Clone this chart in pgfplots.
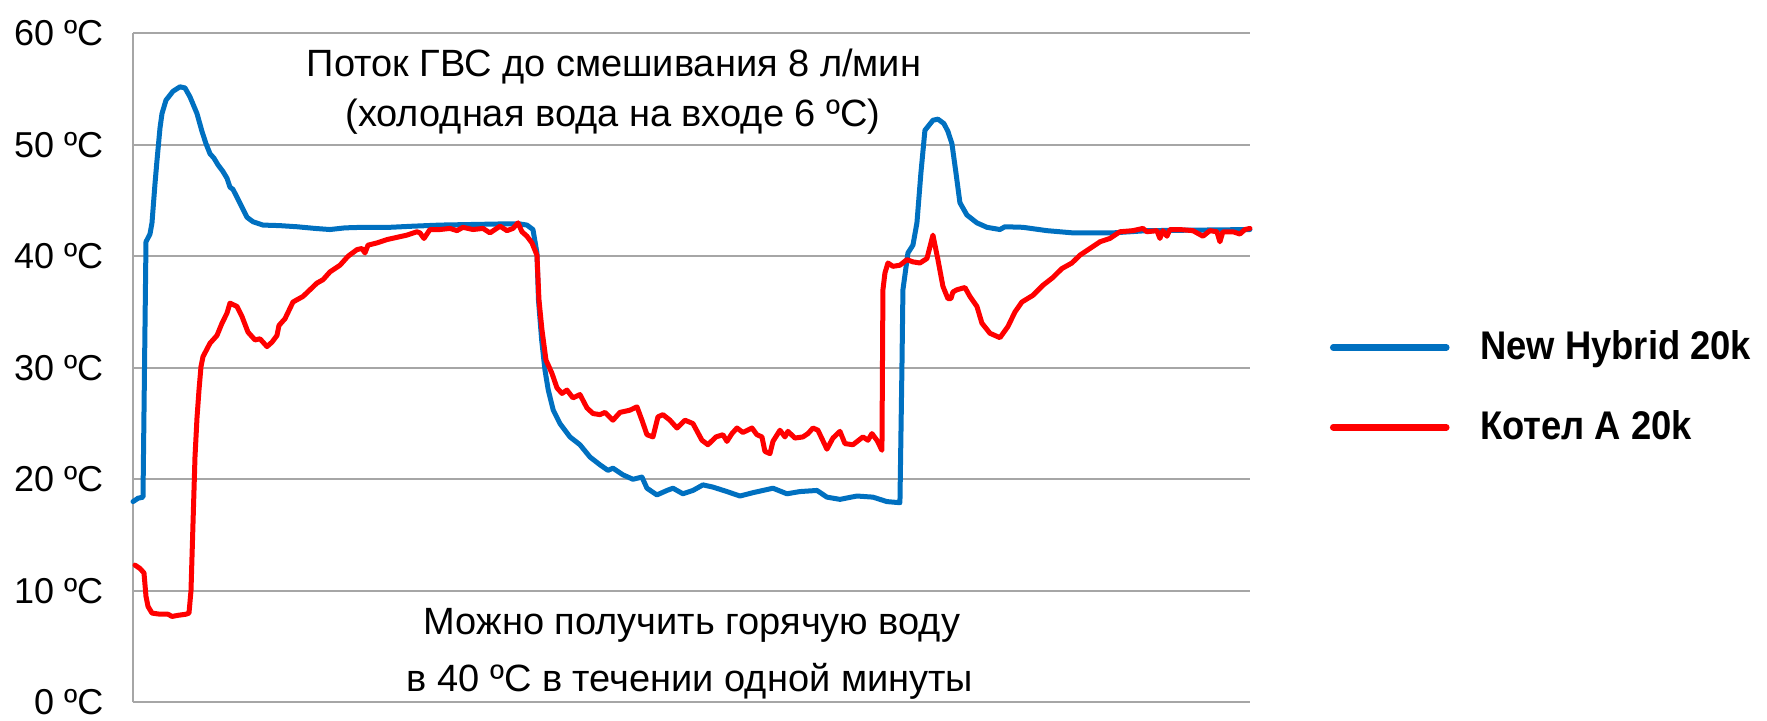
\documentclass[border=0pt]{standalone}
\usepackage{fontspec}
\setmainfont{Liberation Sans}
\newfontfamily\legendfont[FakeStretch=0.91]{Liberation Sans Bold}
\usepackage{pgfplots}
\pgfplotsset{compat=1.18}
\definecolor{hyb}{RGB}{0,112,192}
\definecolor{kot}{RGB}{255,0,0}
\definecolor{grd}{RGB}{166,166,166}
\begin{document}
\begin{tikzpicture}
\useasboundingbox (-66.65bp,-9.35bp) rectangle (816.85bp,351.15bp);
\begin{axis}[
  scale only axis, width=558.3bp, height=334.5bp,
  xmin=133.3, xmax=1250, ymin=0, ymax=60,
  axis x line=none,
  axis y line*=left,
  y axis line style={-, draw=grd, line width=1bp},
  xtick=\empty,
  ytick={0,10,20,30,40,50,60},
  yticklabels={0 ºC,10 ºC,20 ºC,30 ºC,40 ºC,50 ºC,60 ºC},
  major tick length=0pt,
  ymajorgrids, grid style={grd, line width=1bp},
  yticklabel style={font=\fontsize{18bp}{20bp}\selectfont, anchor=east, inner sep=0pt, xshift=-14.8bp},
  /pgf/number format/assume math mode=true,
  clip=false,
  legend cell align=left,
  legend style={draw=none, fill=none, at={(1.0717,0.556)}, anchor=north west,
    inner sep=0pt, outer sep=0pt, row sep=25.4bp, column sep=15.3bp,
    font=\legendfont\fontsize{20bp}{22bp}\selectfont,
    nodes={inner sep=0pt, text depth=0pt}},
  legend image code/.code={\draw[line width=3.3bp] (0bp,-1.3bp) -- (56.5bp,-1.3bp);},
  every axis plot/.append style={line width=2.5bp, line join=round, line cap=round},
]
\addplot[hyb] coordinates {
(133,18.0) (138,18.3) (143,18.4) (146,41.3) (150,42.0) (152,43.0) (155,46.5) (157,48.6)
(160,51.5) (162,52.8) (166,54.0) (173,54.8) (180,55.2) (185,55.1) (190,54.3) (197,52.8)
(202,51.2) (206,50.1) (210,49.2) (214,48.8) (218,48.2) (223,47.6) (227,47.0) (230,46.2)
(233,46.0) (237,45.3) (242,44.4) (247,43.5) (253,43.1) (263,42.8) (280,42.75) (297,42.65)
(315,42.5) (330,42.4) (345,42.55) (363,42.6) (390,42.6) (413,42.7) (440,42.8) (470,42.85)
(500,42.9) (520,42.9) (527,42.8) (533,42.4) (537,40.3) (538.5,36.1) (541.7,32.5) (545,29.8)
(548.3,28.0) (553.3,26.2) (560,25.0) (570,23.8) (580,23.1) (590,22.0) (600,21.3) (608,20.8)
(613,21.0) (623,20.4) (633,20.0) (642,20.2) (647,19.2) (657,18.6) (667,19.0) (673,19.2)
(683,18.7) (693,19.0) (703,19.5) (713,19.3) (727,18.9) (740,18.5) (753,18.8) (773,19.2)
(787,18.7) (800,18.9) (817,19.0) (827,18.4) (840,18.2) (857,18.5) (873,18.4) (887,18.0)
(900,17.9) (902,30) (903,37) (908,40.3) (913,41.0) (917,43) (921,47.5) (925,51.3)
(933,52.2) (938,52.3) (944,51.9) (948,51.2) (952,50.1) (956,47.5) (960,44.8) (967,43.7)
(977,43.0) (987,42.6) (1000,42.4) (1005,42.65) (1023,42.6) (1047,42.3) (1073,42.1)
(1113,42.1) (1147,42.3) (1250,42.4)
};
\addlegendentry{New Hybrid 20k}
\addplot[kot] coordinates {
(135,12.3) (140,12.0) (144,11.6) (146,9.5) (148,8.6) (152,8.0) (160,7.9) (168,7.9)
(172,7.7) (178,7.8) (186,7.9) (189,8.0) (191,10) (193,16) (195,22) (197,25.5) (199,28)
(201,30.1) (203,31.0) (210,32.2) (217,32.9) (222,34.0) (227,34.9) (230,35.8) (237,35.5)
(242,34.6) (248,33.2) (255,32.5) (260,32.6) (267,31.9) (272,32.3) (277,32.9) (279,33.8)
(285,34.4) (293,35.9) (303,36.4) (310,37.0) (317,37.6) (323,37.9) (330,38.6) (340,39.2)
(348,40.0) (357,40.6) (362,40.7) (365,40.3) (368,41.0) (377,41.2) (387,41.5) (397,41.7)
(407,41.9) (417,42.2) (420,42.1) (424,41.6) (430,42.4) (440,42.4) (450,42.5) (457,42.3)
(463,42.6) (473,42.4) (483,42.5) (490,42.1) (500,42.7) (507,42.3) (513,42.5) (518,43.0)
(522,42.2) (527,41.8) (532,41.2) (537,40.1) (539,36.1) (542,33.4) (546,30.7) (552,29.5)
(557,28.2) (562,27.7) (567,28.0) (573,27.3) (580,27.6) (587,26.4) (593,25.9) (600,25.8)
(605,26.0) (613,25.3) (620,26.0) (630,26.2) (637,26.5) (642,25.3) (647,24.0) (653,23.8)
(658,25.6) (663,25.8) (670,25.3) (677,24.6) (685,25.3) (693,25.0) (702,23.5) (708,23.1)
(716,23.8) (723,24.0) (727,23.4) (732,24.1) (737,24.6) (743,24.2) (752,24.6) (757,24.0)
(762,23.8) (765,22.5) (770,22.3) (773,23.4) (780,24.4) (785,23.8) (788,24.3) (795,23.7)
(803,23.8) (808,24.1) (813,24.6) (818,24.4) (827,22.7) (833,23.7) (840,24.3) (845,23.2)
(853,23.1) (863,23.8) (868,23.5) (872,24.1) (877,23.5) (882,22.6) (883,37.0) (885,38.5)
(888,39.4) (893,39.1) (900,39.2) (907,39.7) (913,39.5) (920,39.4) (927,39.8) (933,41.9)
(938,39.7) (943,37.3) (948,36.2) (951,36.2) (953,36.8) (957,37.0) (965,37.2) (970,36.4)
(977,35.5) (982,34.0) (990,33.1) (1000,32.7) (1008,33.7) (1015,35.0) (1022,35.9)
(1033,36.5) (1043,37.4) (1053,38.1) (1062,38.9) (1072,39.4) (1080,40.1) (1090,40.7)
(1100,41.3) (1110,41.6) (1120,42.2) (1133,42.3) (1143,42.5) (1147,42.2) (1157,42.3)
(1160,41.6) (1163,42.3) (1167,41.8) (1170,42.4) (1180,42.4) (1193,42.3) (1203,41.8)
(1210,42.3) (1217,42.2) (1220,41.3) (1223,42.2) (1233,42.2) (1240,42.0) (1245,42.4) (1250,42.5)
};
\addlegendentry{Котел А 20k}
\node[font=\fontsize{19bp}{22bp}\selectfont] at (axis cs:614,57.0) {Поток ГВС до смешивания 8 л/мин};
\node[font=\fontsize{19bp}{22bp}\selectfont] at (axis cs:613,52.5) {(холодная вода на входе 6 ºC)};
\node[font=\fontsize{19bp}{22bp}\selectfont] at (axis cs:692,6.9) {Можно получить горячую воду};
\node[font=\fontsize{19bp}{22bp}\selectfont] at (axis cs:690,1.85) {в 40 ºC в течении одной минуты};
\end{axis}
\end{tikzpicture}
\end{document}
